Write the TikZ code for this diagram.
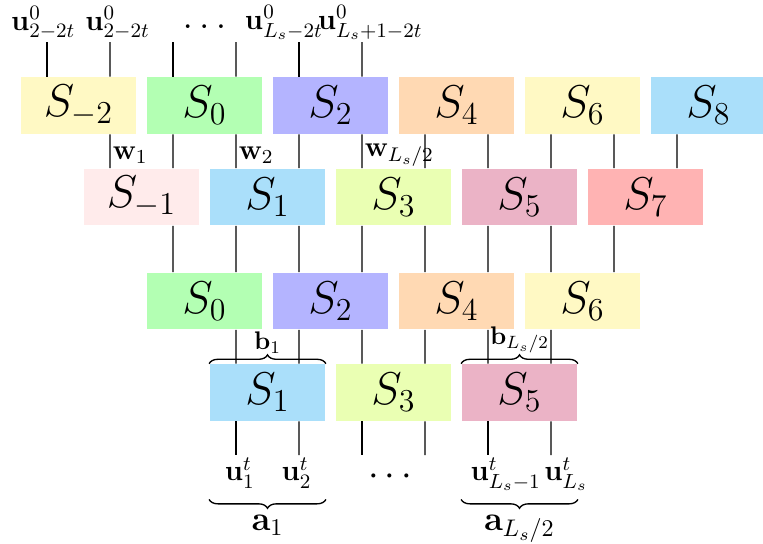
\documentclass[tikz,border=0pt]{standalone}
\usepackage{fix-cm}
\usepackage{amsmath}
\usetikzlibrary{decorations.pathreplacing}

\definecolor{sYellow}{RGB}{255,249,196}
\definecolor{sGreen}{RGB}{179,255,179}
\definecolor{sViolet}{RGB}{180,180,255}
\definecolor{sPeach}{RGB}{255,217,179}
\definecolor{sBlue}{RGB}{170,223,250}
\definecolor{sRose}{RGB}{255,235,235}
\definecolor{sLime}{RGB}{234,255,179}
\definecolor{sMauve}{RGB}{235,179,198}
\definecolor{sSalmon}{RGB}{255,179,179}

\tikzset{
    blk/.style={minimum width=1.84cm, minimum height=0.9cm, inner sep=0pt, font=\huge},
    wire/.style={semithick},
    ulab/.style={font=\fontsize{13.2}{15}\selectfont, inner sep=1pt},
    wlab/.style={font=\fontsize{12.8}{15}\selectfont, right, pos=0.62, inner sep=1pt},
    brc/.style={decorate, decoration={brace, amplitude=4pt}, semithick},
}

\begin{document}
\begin{tikzpicture}
                \useasboundingbox (-0.746, 0) rectangle (11.365, -8.619);
                % layer 1
                \node[blk, fill=sYellow] (A0) at (0.5, -1.675) {$S_{-2}$};
                \node[blk, fill=sGreen] (A1) at (2.5, -1.675) {$S_0$};
                \node[blk, fill=sViolet] (A2) at (4.5, -1.675) {$S_2$};
                \node[blk, fill=sPeach] (A3) at (6.5, -1.675) {$S_4$};
                \node[blk, fill=sYellow] (A4) at (8.5, -1.675) {$S_6$};
                \node[blk, fill=sBlue] (A5) at (10.5, -1.675) {$S_8$};
                % layer 2
                \node[blk, fill=sRose] (B0) at (1.5, -3.127) {$S_{-1}$};
                \node[blk, fill=sBlue] (B1) at (3.5, -3.127) {$S_1$};
                \node[blk, fill=sLime] (B2) at (5.5, -3.127) {$S_3$};
                \node[blk, fill=sMauve] (B3) at (7.5, -3.127) {$S_5$};
                \node[blk, fill=sSalmon] (B4) at (9.5, -3.127) {$S_7$};
                % layer 3
                \node[blk, fill=sGreen] (C0) at (2.5, -4.778) {$S_0$};
                \node[blk, fill=sViolet] (C1) at (4.5, -4.778) {$S_2$};
                \node[blk, fill=sPeach] (C2) at (6.5, -4.778) {$S_4$};
                \node[blk, fill=sYellow] (C3) at (8.5, -4.778) {$S_6$};
                % layer 4
                \node[blk, fill=sBlue] (D0) at (3.5, -6.230) {$S_1$};
                \node[blk, fill=sLime] (D1) at (5.5, -6.230) {$S_3$};
                \node[blk, fill=sMauve] (D2) at (7.5, -6.230) {$S_5$};

                % inputs on top
                \foreach \i in {0,...,5}
                    \coordinate (t\i) at (\i, -0.667);
                \node[ulab, anchor=south, xshift=-0.6mm] (ut0) at (t0) {$\mathbf{u}^0_{2-2t}$};
                \node[ulab, anchor=south, xshift=1.2mm] (ut1) at (t1) {$\mathbf{u}^0_{2-2t}$};
                \node[font=\LARGE] (tdots) at (2.5, -0.42) {$\ldots$};
                \node[ulab, anchor=south, xshift=-2.4mm] (ut4) at (t4) {$\mathbf{u}^0_{L_s-2t}$};
                \node[ulab, anchor=south, xshift=1.3mm] (ut5) at (t5) {$\mathbf{u}^0_{L_s+1-2t}$};
                \draw[wire] (t0) -- ([xshift=-5mm]A0.north);
                \draw[wire] (t1) -- ([xshift=5mm]A0.north);
                \draw[wire] (t2) -- ([xshift=-5mm]A1.north);
                \draw[wire] (t3) -- ([xshift=5mm]A1.north);
                \draw[wire] (t4) -- ([xshift=-5mm]A2.north);
                \draw[wire] (t5) -- ([xshift=5mm]A2.north);

                % layer 1 -> layer 2
                \draw[wire] ([xshift=5mm]A0.south) -- node[wlab] {$\mathbf{w}_1$} ([xshift=-5mm]B0.north);
                \draw[wire] ([xshift=5mm]A1.south) -- node[wlab] {$\mathbf{w}_2$} ([xshift=-5mm]B1.north);
                \draw[wire] ([xshift=5mm]A2.south) -- node[wlab] {$\mathbf{w}_{L_s/2}$} ([xshift=-5mm]B2.north);
                \foreach \k in {3,4}
                    \draw[wire] ([xshift=5mm]A\k.south) -- ([xshift=-5mm]B\k.north);
                \foreach \k/\n in {0/1,1/2,2/3,3/4,4/5}
                    \draw[wire] ([xshift=-5mm]A\n.south) -- ([xshift=5mm]B\k.north);

                % layer 2 -> layer 3
                \foreach \k/\n in {0/1,1/2,2/3,3/4} {
                    \draw[wire] ([xshift=5mm]B\k.south) -- ([xshift=-5mm]C\k.north);
                    \draw[wire] ([xshift=-5mm]B\n.south) -- ([xshift=5mm]C\k.north);
                }

                % layer 3 -> layer 4
                \foreach \k/\n in {0/1,1/2,2/3} {
                    \draw[wire] ([xshift=5mm]C\k.south) -- ([xshift=-5mm]D\k.north);
                    \draw[wire] ([xshift=-5mm]C\n.south) -- ([xshift=5mm]D\k.north);
                }
                \draw[brc] (D0.north west) -- node[above=1pt, font=\fontsize{11.5}{14}\selectfont] (b1) {$\mathbf{b}_1$} (D0.north east);
                \draw[brc] (D2.north west) -- node[above=1pt, font=\fontsize{11.5}{14}\selectfont] (bL) {$\mathbf{b}_{L_s/2}$} (D2.north east);

                % outputs at the bottom
                \foreach \i in {3,...,8}
                    \coordinate (o\i) at (\i, -7.222);
                \draw[wire] ([xshift=-5mm]D0.south) -- (o3);
                \draw[wire] ([xshift=5mm]D0.south) -- (o4);
                \draw[wire] ([xshift=-5mm]D1.south) -- (o5);
                \draw[wire] ([xshift=5mm]D1.south) -- (o6);
                \draw[wire] ([xshift=-5mm]D2.south) -- (o7);
                \draw[wire] ([xshift=5mm]D2.south) -- (o8);
                \node[ulab, anchor=north, xshift=0.6mm] (ub3) at (o3) {$\mathbf{u}^t_1$};
                \node[ulab, anchor=north, xshift=-0.4mm] (ub4) at (o4) {$\mathbf{u}^t_2$};
                \node[font=\LARGE] (bdots) at (5.5, -7.57) {$\cdots$};
                \node[ulab, anchor=north, xshift=2.8mm] (ub7) at (o7) {$\mathbf{u}^t_{L_s-1}$};
                \node[ulab, anchor=north, xshift=2.4mm] (ub8) at (o8) {$\mathbf{u}^t_{L_s}$};
                \draw[brc, decoration={mirror}] ([yshift=-12.4mm]D0.south west) -- node[below=3.5pt, font=\fontsize{15.5}{18}\selectfont] (a1) {$\mathbf{a}_1$} ([yshift=-12.4mm]D0.south east);
                \draw[brc, decoration={mirror}] ([yshift=-12.4mm]D2.south west) -- node[below=3.5pt, font=\fontsize{15.5}{18}\selectfont] (aL) {$\mathbf{a}_{L_s/2}$} ([yshift=-12.4mm]D2.south east);
\end{tikzpicture}
\end{document}
